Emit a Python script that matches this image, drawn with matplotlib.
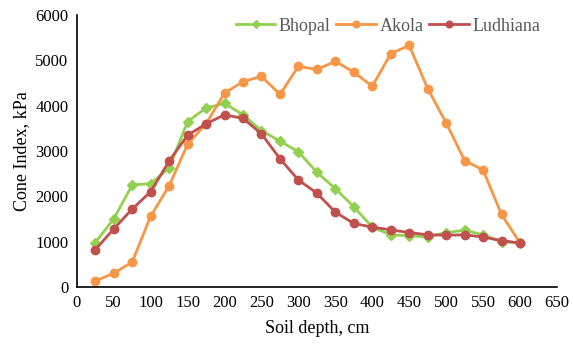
import matplotlib
matplotlib.use("Agg")
import matplotlib.pyplot as plt

depth = [25, 50, 75, 100, 125, 150, 175, 200, 225, 250, 275, 300, 325, 350, 375, 400, 425, 450, 475, 500, 525, 550, 575, 600]
bhopal = [980, 1500, 2250, 2280, 2620, 3650, 3950, 4050, 3800, 3450, 3220, 2980, 2530, 2170, 1770, 1320, 1150, 1130, 1100, 1200, 1250, 1150, 1000, 970]
akola = [130, 300, 550, 1560, 2230, 3150, 3600, 4280, 4530, 4650, 4250, 4870, 4800, 4980, 4740, 4430, 5150, 5330, 4380, 3620, 2790, 2580, 1600, 970]
ludhiana = [820, 1280, 1720, 2100, 2780, 3350, 3600, 3800, 3720, 3380, 2830, 2360, 2070, 1650, 1400, 1320, 1260, 1200, 1150, 1140, 1150, 1100, 1020, 970]
xticks = list(range(0, 651, 50))
yticks = list(range(0, 6001, 1000))

plt.rcParams['font.family'] = ['Liberation Serif', 'DejaVu Serif']

fig = plt.figure(figsize=(5.73, 3.44), dpi=100)
ax = fig.add_axes([0.134, 0.166, 0.838, 0.79])

ax.plot(depth, bhopal, color='#92D050', marker='D', markersize=5, linewidth=2, label='Bhopal')
ax.plot(depth, akola, color='#F79646', marker='o', markersize=6, linewidth=2, label='Akola')
ax.plot(depth, ludhiana, color='#C0504D', marker='o', markersize=6, linewidth=2, label='Ludhiana')

ax.set_xlim(0, 650)
ax.set_ylim(0, 6000)
ax.set_xticks(xticks)
ax.set_yticks(yticks)
ax.tick_params(axis='both', length=0, labelsize=12, colors='black', pad=6)
for s in ['top', 'right']:
    ax.spines[s].set_visible(False)
for s in ['left', 'bottom']:
    ax.spines[s].set_color('black')
    ax.spines[s].set_linewidth(1.2)

ax.set_xlabel('Soil depth, cm', fontsize=13, labelpad=6)
ax.set_ylabel('Cone Index, kPa', fontsize=13, labelpad=4)

leg = ax.legend(loc='upper center', bbox_to_anchor=(0.648, 1.05), ncol=3, frameon=False,
                fontsize=13, handlelength=2.2, columnspacing=0.3, handletextpad=0.2,
                markerscale=0.8, labelcolor='#595959')

fig.savefig('out.png', dpi=100)
